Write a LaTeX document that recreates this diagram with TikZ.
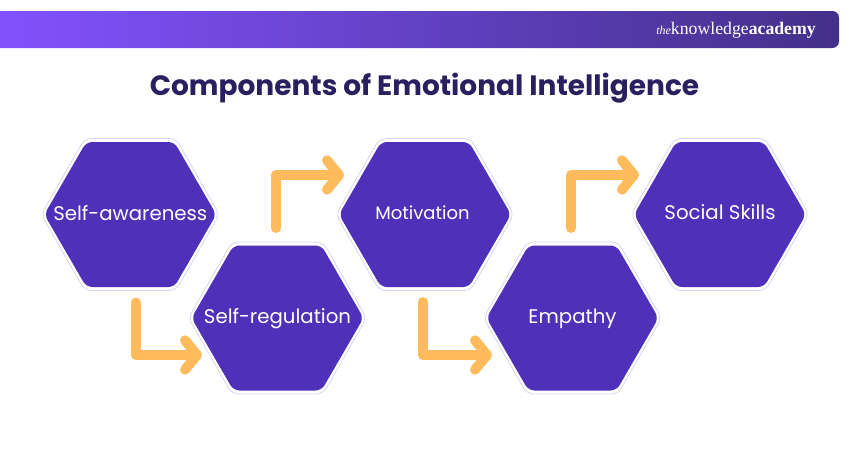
\documentclass[tikz,border=0pt]{standalone}
\usepackage{fontspec}
\setmainfont{Poppins}
\newfontfamily\logofont{Liberation Serif}
\usetikzlibrary{arrows.meta}
\definecolor{hexpurple}{HTML}{4F31B9}
\definecolor{hexline}{HTML}{DAD4F4}
\definecolor{arrowgold}{HTML}{FFBB5C}
\definecolor{titlenavy}{HTML}{2A1F5F}
\definecolor{barleft}{HTML}{8352FF}
\definecolor{barmid}{HTML}{6640C2}
\definecolor{barright}{HTML}{433089}
\tikzset{
    hexpic/.pic={
        \draw[hexline, fill=white, line width=0.6pt, rounded corners=5pt]
            (-89, 0) -- (-45.5, -76) -- (45.5, -76) -- (89, 0) -- (45.5, 76) -- (-45.5, 76) -- cycle;
        \fill[hexpurple, rounded corners=4.5pt]
            (-86, 0) -- (-44, -72.5) -- (44, -72.5) -- (86, 0) -- (44, 72.5) -- (-44, 72.5) -- cycle;
    },
    hextext/.style={text=white, font=\fontsize{14.8}{17}\selectfont, inner sep=0pt},
    elbow/.style={arrowgold, line width=7.5pt, line cap=round, line join=round,
        -{Straight Barb[round, length=9pt, width=22pt, line width=7.5pt]}},
}
\begin{document}
\begin{tikzpicture}[x=0.75pt, y=-0.75pt]
    \useasboundingbox (0, 0) rectangle (850, 450);

    % top bar
    \path[rounded corners=5pt, left color=barleft, middle color=barmid, right color=barright]
        (-10, 11) rectangle (839, 48);
    \node[anchor=east, inner sep=0pt, text=white] (logo) at (816, 30)
        {\logofont\fontsize{13.3}{15}\selectfont{\itshape\fontsize{9}{11}\selectfont the}knowledge\textbf{academy}};

    % title
    \node[text=titlenavy, inner sep=0pt, font=\fontsize{21}{25}\selectfont\bfseries] (title) at (424.5, 88)
        {Components of Emotional Intelligence};

    % hexagons
    \pic at (130.3, 214.5) {hexpic};
    \pic at (277.5, 318) {hexpic};
    \pic at (425, 214.5) {hexpic};
    \pic at (572.5, 318) {hexpic};
    \pic at (720, 214.5) {hexpic};

    \node[hextext] (awareness) at (130.3, 213) {Self-awareness};
    \node[hextext] (regulation) at (277.5, 318.5) {Self-regulation};
    \node[hextext, font=\fontsize{13.5}{17}\selectfont] (motivation) at (422.5, 212.5) {Motivation};
    \node[hextext] (empathy) at (572.5, 318.5) {Empathy};
    \node[hextext] (social) at (720, 212.5) {Social Skills};

    % arrows
    \draw[elbow] ([shift={(5.4, 89.5)}]awareness.center) |- ([shift={(-75.5, 36.5)}]regulation.center);
    \draw[elbow] ([shift={(-1.5, -90.5)}]regulation.center) |- ([shift={(-78.5, -37.5)}]motivation.center);
    \draw[elbow] ([shift={(0.5, 89.5)}]motivation.center) |- ([shift={(-80.5, 36.5)}]empathy.center);
    \draw[elbow] ([shift={(-1.5, -90.5)}]empathy.center) |- ([shift={(-81, -37.5)}]social.center);
\end{tikzpicture}
\end{document}
